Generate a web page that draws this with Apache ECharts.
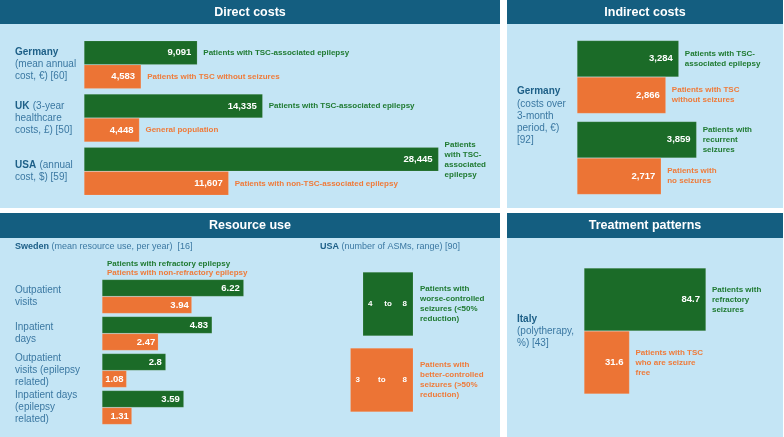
<!DOCTYPE html>
<html>
<head>
<meta charset="utf-8">
<script src="https://cdn.jsdelivr.net/npm/echarts@6/dist/echarts.min.js"></script>
<style>
html,body{margin:0;padding:0;background:#fff}
#chart{width:784px;height:437px}
</style>
</head>
<body>
<div id="chart"></div>
<script>
// ---- data ----
const directCats = ['Germany', 'UK', 'USA'];
const directLabels = [
  '{b|Germany}\n{n|(mean annual}\n{n|cost, €) [60]}',
  '{b|UK} {n|(3-year}\n{n|healthcare}\n{n|costs, £) [50]}',
  '{b|USA} {n|(annual}\n{n|cost, $) [59]}'
];
const directTSC = [9091, 14335, 28445];
const directOther = [4583, 4448, 11607];
const directTSCDesc = ['Patients with TSC-associated epilepsy', 'Patients with TSC-associated epilepsy', 'Patients\nwith TSC-\nassociated\nepilepsy'];
const directOtherDesc = ['Patients with TSC without seizures', 'General population', 'Patients with non-TSC-associated epilepsy'];

const indirectCats = ['TSC', 'Seizures'];
const indirectHigh = [3284, 3859];
const indirectLow = [2866, 2717];
const indirectHighDesc = ['Patients with TSC-\nassociated epilepsy', 'Patients with\nrecurrent\nseizures'];
const indirectLowDesc = ['Patients with TSC\nwithout seizures', 'Patients with\nno seizures'];

const swedenCats = ['Outpatient\nvisits', 'Inpatient\ndays', 'Outpatient\nvisits (epilepsy\nrelated)', 'Inpatient days\n(epilepsy\nrelated)'];
const swedenRefractory = [6.22, 4.83, 2.8, 3.59];
const swedenNonRefractory = [3.94, 2.47, 1.08, 1.31];

const rangeCats = ['worse', 'better'];
const rangeLow = [4, 3];
const rangeHigh = [8, 8];
const rangeDesc = ['Patients with\nworse-controlled\nseizures (<50%\nreduction)', 'Patients with\nbetter-controlled\nseizures (>50%\nreduction)'];

const italyCats = ['Italy'];
const italyRefractory = [84.7];
const italyFree = [31.6];
const italyRefractoryDesc = ['Patients with\nrefractory\nseizures'];
const italyFreeDesc = ['Patients with TSC\nwho are seizure\nfree'];

// ---- style ----
const FONT = '"Liberation Sans", Arial, sans-serif';
const GREEN = '#1b6b28', ORANGE = '#ec7435';
const GREEN_TXT = '#1f7a31', ORANGE_TXT = '#ef7b3a';
const HEAD = '#145e80', PANEL = '#c4e5f5';
const BLUE_B = '#1d5f87', BLUE_N = '#3b78a2';

const chart = echarts.init(document.getElementById('chart'));

function valAxis(gridIndex, max) {
  return { type: 'value', gridIndex: gridIndex, min: 0, max: max, show: false };
}
function catAxis(gridIndex, data, label) {
  return {
    type: 'category', gridIndex: gridIndex, data: data, inverse: true,
    axisLine: { show: false }, axisTick: { show: false }, splitLine: { show: false },
    axisLabel: label || { show: false }
  };
}
function thousands(p) { return p.value.toLocaleString('en-US'); }
function plain(p) { return String(p.value); }

function valueBar(name, x, y, data, color, width, fmt, dist) {
  return {
    type: 'bar', name: name, xAxisIndex: x, yAxisIndex: y, data: data,
    barWidth: width, barGap: '0%', barCategoryGap: '0%',
    itemStyle: { color: color, borderColor: 'rgba(255,255,255,0.25)', borderWidth: 0.5 },
    label: { show: true, position: 'insideRight', distance: dist || 6, color: '#fff', fontWeight: 'bold', fontSize: 9.5, fontFamily: FONT, formatter: fmt || thousands }
  };
}
function descBar(x, y, data, desc, color, width) {
  return {
    type: 'bar', xAxisIndex: x, yAxisIndex: y, data: data, silent: true,
    barWidth: width, barGap: '0%', barCategoryGap: '0%',
    itemStyle: { color: 'rgba(0,0,0,0)' },
    label: { show: true, position: 'right', distance: 6, color: color, fontWeight: 'bold', fontSize: 8, lineHeight: 10, fontFamily: FONT,
      formatter: function (p) { return desc[p.dataIndex]; } }
  };
}

const countryRich = {
  b: { fontWeight: 'bold', color: BLUE_B, fontSize: 10, lineHeight: 12, fontFamily: FONT },
  n: { color: BLUE_N, fontSize: 10, lineHeight: 12, fontFamily: FONT }
};
// zrender graphic text uses fill instead of color
function graphicRich(size, lh) {
  return {
    b: { fontWeight: 'bold', fill: BLUE_B, fontSize: size, lineHeight: lh, fontFamily: FONT },
    n: { fill: BLUE_N, fontSize: size, lineHeight: lh, fontFamily: FONT }
  };
}

const option = {
  animation: false,
  backgroundColor: '#fff',
  textStyle: { fontFamily: FONT },
  graphic: [
    { type: 'rect', shape: { x: 0, y: 24, width: 500, height: 184 }, style: { fill: PANEL } },
    { type: 'rect', shape: { x: 507, y: 24, width: 276, height: 184 }, style: { fill: PANEL } },
    { type: 'rect', shape: { x: 0, y: 238, width: 500, height: 199 }, style: { fill: PANEL } },
    { type: 'rect', shape: { x: 507, y: 238, width: 276, height: 199 }, style: { fill: PANEL } },
    { type: 'rect', shape: { x: 0, y: 0, width: 500, height: 24 }, style: { fill: HEAD } },
    { type: 'rect', shape: { x: 507, y: 0, width: 276, height: 24 }, style: { fill: HEAD } },
    { type: 'rect', shape: { x: 0, y: 213, width: 500, height: 25 }, style: { fill: HEAD } },
    { type: 'rect', shape: { x: 507, y: 213, width: 276, height: 25 }, style: { fill: HEAD } },
    { type: 'text', style: { text: 'Direct costs', x: 250, y: 13, align: 'center', verticalAlign: 'middle', fill: '#fff', font: 'bold 12.5px ' + FONT } },
    { type: 'text', style: { text: 'Indirect costs', x: 645, y: 13, align: 'center', verticalAlign: 'middle', fill: '#fff', font: 'bold 12.5px ' + FONT } },
    { type: 'text', style: { text: 'Resource use', x: 250, y: 226, align: 'center', verticalAlign: 'middle', fill: '#fff', font: 'bold 12.5px ' + FONT } },
    { type: 'text', style: { text: 'Treatment patterns', x: 645, y: 226, align: 'center', verticalAlign: 'middle', fill: '#fff', font: 'bold 12.5px ' + FONT } },
    { type: 'text', style: { text: '{b|Germany}\n{n|(costs over}\n{n|3-month}\n{n|period, €)}\n{n|[92]}', x: 517, y: 116, align: 'left', verticalAlign: 'middle', rich: graphicRich(10, 12.2) } },
    { type: 'text', style: { text: '{b|Sweden}{n| (mean resource use, per year)  [16]}', x: 15, y: 247, align: 'left', verticalAlign: 'middle', rich: graphicRich(9, 11) } },
    { type: 'text', style: { text: '{b|USA}{n| (number of ASMs, range) [90]}', x: 320, y: 247, align: 'left', verticalAlign: 'middle', rich: graphicRich(9, 11) } }
  ],
  legend: {
    selectedMode: false, orient: 'vertical', left: 97, top: 255,
    icon: 'none', itemWidth: 0, itemHeight: 8, itemGap: 1,
    textStyle: { fontSize: 8, fontWeight: 'bold', fontFamily: FONT },
    data: [
      { name: 'Patients with refractory epilepsy', textStyle: { color: GREEN_TXT } },
      { name: 'Patients with non-refractory epilepsy', textStyle: { color: ORANGE_TXT } }
    ]
  },
  grid: [
    { left: 84, top: 38, width: 374, height: 160 },
    { left: 577, top: 36.5, width: 124, height: 162 },
    { left: 102, top: 278, width: 159.6, height: 148 },
    { left: 313, top: 266, width: 100, height: 152 },
    { left: 584, top: 268, width: 144, height: 126 }
  ],
  xAxis: [valAxis(0, 30000), valAxis(1, 4000), valAxis(2, 7), valAxis(3, 8), valAxis(4, 100)],
  yAxis: [
    catAxis(0, directCats, { align: 'left', margin: 69, formatter: function (v) { return directLabels[directCats.indexOf(v)]; }, rich: countryRich }),
    catAxis(0, directCats),
    catAxis(1, indirectCats),
    catAxis(1, indirectCats),
    catAxis(2, swedenCats, { align: 'left', margin: 87, color: BLUE_N, fontSize: 10, lineHeight: 12, fontFamily: FONT }),
    catAxis(3, rangeCats),
    catAxis(4, italyCats, { align: 'left', margin: 67, formatter: function () { return '{b|Italy}\n{n|(polytherapy,}\n{n|%) [43]}'; }, rich: countryRich }),
    catAxis(4, italyCats)
  ],
  series: [
    valueBar('directTSC', 0, 0, directTSC, GREEN, 24),
    valueBar('directOther', 0, 0, directOther, ORANGE, 24),
    descBar(0, 1, directTSC, directTSCDesc, GREEN_TXT, 24),
    descBar(0, 1, directOther, directOtherDesc, ORANGE_TXT, 24),

    valueBar('indirectHigh', 1, 2, indirectHigh, GREEN, 36.5),
    valueBar('indirectLow', 1, 2, indirectLow, ORANGE, 36.5),
    descBar(1, 3, indirectHigh, indirectHighDesc, GREEN_TXT, 36.5),
    descBar(1, 3, indirectLow, indirectLowDesc, ORANGE_TXT, 36.5),

    valueBar('Patients with refractory epilepsy', 2, 4, swedenRefractory, GREEN, 17, plain, 4),
    valueBar('Patients with non-refractory epilepsy', 2, 4, swedenNonRefractory, ORANGE, 17, plain, 3),

    {
      type: 'custom', xAxisIndex: 3, yAxisIndex: 5,
      data: rangeCats.map(function (c, i) { return [i, rangeLow[i], rangeHigh[i]]; }),
      encode: { x: [1, 2], y: 0 },
      renderItem: function (params, api) {
        const i = params.dataIndex;
        const cat = api.value(0), lo = api.value(1), hi = api.value(2);
        const p0 = api.coord([lo, cat]);
        const p1 = api.coord([hi, cat]);
        const h = api.size([0, 1])[1] * 0.835;
        const fill = i === 0 ? GREEN : ORANGE;
        const txt = i === 0 ? GREEN_TXT : ORANGE_TXT;
        const f = 'bold 8px ' + FONT;
        return {
          type: 'group',
          children: [
            { type: 'rect', shape: { x: p0[0], y: p0[1] - h / 2, width: p1[0] - p0[0], height: h }, style: { fill: fill, stroke: 'rgba(255,255,255,0.25)', lineWidth: 0.5 } },
            { type: 'text', style: { text: String(lo), x: p0[0] + 5, y: p0[1], align: 'left', verticalAlign: 'middle', fill: '#fff', font: f } },
            { type: 'text', style: { text: 'to', x: (p0[0] + p1[0]) / 2, y: p0[1], align: 'center', verticalAlign: 'middle', fill: '#fff', font: f } },
            { type: 'text', style: { text: String(hi), x: p1[0] - 6, y: p0[1], align: 'right', verticalAlign: 'middle', fill: '#fff', font: f } },
            { type: 'text', style: { text: rangeDesc[i], x: p1[0] + 7, y: p0[1], align: 'left', verticalAlign: 'middle', fill: txt, font: f, lineHeight: 10 } }
          ]
        };
      }
    },

    valueBar('italyRefractory', 4, 6, italyRefractory, GREEN, 63, plain),
    valueBar('italyFree', 4, 6, italyFree, ORANGE, 63, plain),
    descBar(4, 7, italyRefractory, italyRefractoryDesc, GREEN_TXT, 63),
    descBar(4, 7, italyFree, italyFreeDesc, ORANGE_TXT, 63)
  ]
};
chart.setOption(option);
</script>
</body>
</html>
